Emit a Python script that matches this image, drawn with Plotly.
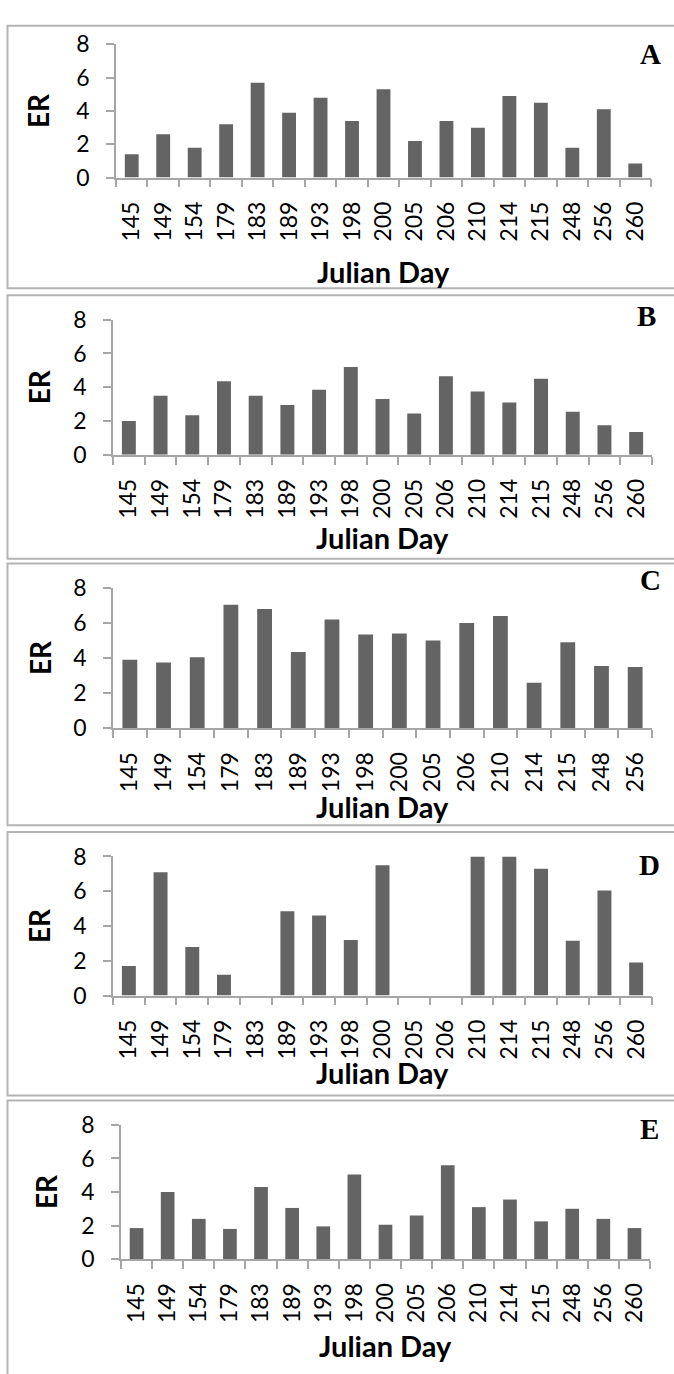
import plotly.graph_objects as go

# ---------------- data ----------------
days_17 = ["145", "149", "154", "179", "183", "189", "193", "198", "200",
           "205", "206", "210", "214", "215", "248", "256", "260"]
days_16 = days_17[:-1]

er_A = [1.4, 2.6, 1.8, 3.2, 5.7, 3.9, 4.8, 3.4, 5.3, 2.2, 3.4, 3.0, 4.9, 4.5, 1.8, 4.1, 0.85]
er_B = [2.0, 3.5, 2.35, 4.35, 3.5, 2.95, 3.85, 5.2, 3.3, 2.45, 4.65, 3.75, 3.1, 4.5, 2.55, 1.75, 1.35]
er_C = [3.9, 3.75, 4.05, 7.05, 6.8, 4.35, 6.2, 5.35, 5.4, 5.0, 6.0, 6.4, 2.6, 4.9, 3.55, 3.5]
er_D = [1.7, 7.1, 2.8, 1.2, 0.0, 4.85, 4.6, 3.2, 7.5, 0.0, 0.0, 8.0, 8.0, 7.3, 3.15, 6.05, 1.9]
er_E = [1.85, 4.0, 2.4, 1.8, 4.3, 3.05, 1.95, 5.05, 2.05, 2.6, 5.6, 3.1, 3.55, 2.25, 3.0, 2.4, 1.85]

panel_labels = ["A", "B", "C", "D", "E"]
y_ticks = [0, 2, 4, 6, 8]
x_title = "Julian Day"
y_title = "ER"

# ---------------- layout geometry (pixels) ----------------
W, H = 674, 1374
# plot areas: (x0, x1, y_top, y_bottom)
areas = [
    (116, 651, 30, 166),
    (113, 652, 311, 449),
    (113, 652, 585, 728),
    (113, 652, 859, 1001),
    (121, 650, 1133, 1270),
]
# panel borders: (y_top, y_bottom)
borders = [(11, 279), (286, 555), (560, 827), (834, 1103), (1108, 1390)]
er_x = [38, 39, 40, 39, 46]
jd_y = [262, 533, 808, 1080, 1358]
letter_pos = [(650, 40), (646, 307), (650, 577), (649, 868), (649, 1137)]

series = [(days_17, er_A), (days_17, er_B), (days_16, er_C), (days_17, er_D), (days_17, er_E)]

BAR = "#646464"
AX = "#a6a6a6"
FONT = "Lato"

fig = go.Figure()
layout = dict(
    width=W, height=H, margin=dict(l=0, r=0, t=0, b=0),
    paper_bgcolor="white", plot_bgcolor="white",
    showlegend=False, bargap=0.56,
)

def px(x):
    return x / W

def py(y):
    return 1 - y / H

annotations = []
shapes = []
for i, ((cats, vals), (x0, x1, yt, yb)) in enumerate(zip(series, areas)):
    n = i + 1
    xa = "x" if n == 1 else f"x{n}"
    ya = "y" if n == 1 else f"y{n}"
    fig.add_trace(go.Bar(x=cats, y=vals, marker=dict(color=BAR, line=dict(width=0)),
                         xaxis=xa, yaxis=ya))
    layout["xaxis" if n == 1 else f"xaxis{n}"] = dict(
        domain=[px(x0), px(x1)], anchor=ya, type="category",
        showline=True, linecolor=AX, linewidth=1.5,
        ticks="outside", tickson="boundaries", ticklen=8, tickcolor=AX, tickwidth=1.5,
        tickangle=-90, tickfont=dict(family=FONT, size=23, color="black"),
        ticklabelstandoff=13, showgrid=False, zeroline=False, fixedrange=True,
    )
    layout["yaxis" if n == 1 else f"yaxis{n}"] = dict(
        domain=[py(yb), py(yt)], anchor=xa, range=[0, 8],
        tickvals=y_ticks, showline=True, linecolor=AX, linewidth=1.5,
        ticks="outside", ticklen=8, tickcolor=AX, tickwidth=1.5,
        tickfont=dict(family=FONT, size=23, color="black"),
        ticklabelstandoff=12, showgrid=False, zeroline=False, fixedrange=True,
    )
    # axis titles
    annotations.append(dict(
        text=f"<b>{y_title}</b>", x=px(er_x[i]), y=py((yt + yb) / 2),
        xref="paper", yref="paper", textangle=-90, showarrow=False,
        xanchor="center", yanchor="middle",
        font=dict(family=FONT, size=28, color="black"),
    ))
    annotations.append(dict(
        text=f"<b>{x_title}</b>", x=px((x0 + x1) / 2), y=py(jd_y[i]),
        xref="paper", yref="paper", showarrow=False,
        xanchor="center", yanchor="middle",
        font=dict(family=FONT, size=29, color="black"),
    ))
    lx, ly = letter_pos[i]
    annotations.append(dict(
        text=f"<b>{panel_labels[i]}</b>", x=px(lx), y=py(ly),
        xref="paper", yref="paper", showarrow=False,
        xanchor="center", yanchor="middle",
        font=dict(family="Liberation Serif", size=29, color="black"),
    ))
    bt, bb = borders[i]
    shapes.append(dict(
        type="rect", xref="paper", yref="paper",
        x0=px(7.5), x1=px(690), y0=py(bb), y1=py(bt),
        line=dict(color="#b4b4b4", width=2), fillcolor="rgba(0,0,0,0)", layer="below",
    ))

layout["annotations"] = annotations
layout["shapes"] = shapes
fig.update_layout(**layout)
fig.write_html("out.html")
